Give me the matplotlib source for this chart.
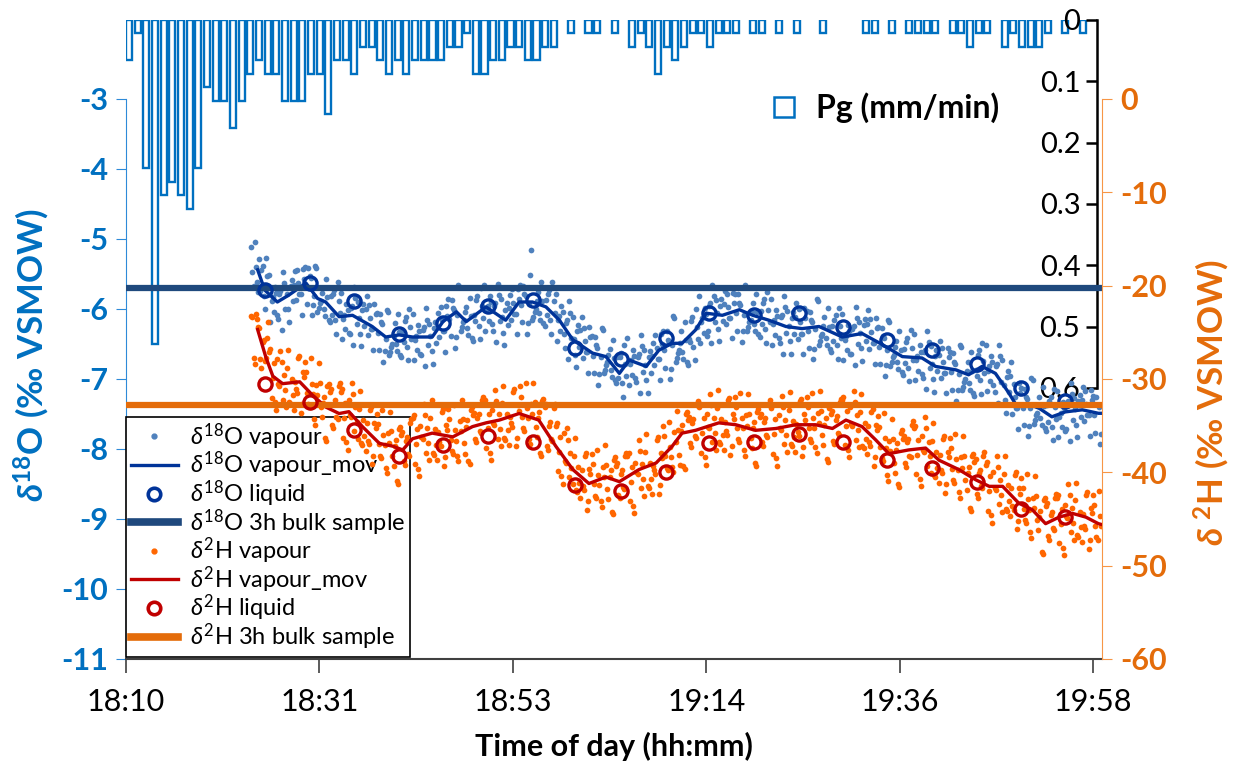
import numpy as np
import matplotlib
matplotlib.use("Agg")
import matplotlib.pyplot as plt
from matplotlib.lines import Line2D

plt.rcParams['font.family'] = ['Lato', 'DejaVu Sans']
plt.rcParams['axes.unicode_minus'] = False
plt.rcParams['mathtext.fontset'] = 'custom'
plt.rcParams['mathtext.rm'] = 'Lato'
plt.rcParams['mathtext.it'] = 'Lato:italic'
plt.rcParams['mathtext.bf'] = 'Lato:bold'
plt.rcParams['mathtext.bfit'] = 'Lato:bold:italic'

# time axis: minutes after 18:10
time_ticks = [0, 21.6, 43.2, 64.8, 86.4, 108]
time_labels = ['18:10', '18:31', '18:53', '19:14', '19:36', '19:58']

# precipitation (mm/min), one bar per slot
pg = [0.066, 0.022, 0.242, 0.528, 0.286, 0.264, 0.286, 0.308, 0.242, 0.110,
      0.132, 0.132, 0.176, 0.132, 0.088, 0.066, 0.088, 0.088, 0.132, 0.132,
      0.132, 0.088, 0.088, 0.154, 0.066, 0.066, 0.088, 0.044, 0.044, 0.066,
      0.088, 0.066, 0.088, 0.066, 0.066, 0.066, 0.066, 0.044, 0.044, 0.022,
      0.088, 0.088, 0.066, 0.066, 0.044, 0.044, 0.066, 0.066, 0.044, 0.044,
      0, 0.022, 0, 0.022, 0.022, 0, 0.022, 0, 0.044, 0.022,
      0.044, 0.088, 0.044, 0.066, 0.044, 0.022, 0.022, 0.044, 0.022, 0.022,
      0.022, 0, 0.022, 0.022, 0, 0.022, 0, 0.022, 0, 0,
      0.022, 0, 0, 0, 0, 0.022, 0.022, 0, 0.022, 0,
      0.022, 0.022, 0.022, 0.022, 0, 0.022, 0.022, 0.044, 0.022, 0.022,
      0, 0.044, 0.022, 0.044, 0.044, 0.044, 0.022, 0, 0.022, 0,
      0.022]

# vapour measurements from 18:24 (two interleaved reading sets)
vap_t = np.arange(14, 109, 0.25)
vap_t_b = vap_t + 0.125
o18_vap = [
    -5.12, -5.67, -5.40, -5.76, -5.74, -5.38, -6.00, -5.53, -5.52, -5.89, -6.04, -5.77,
    -6.14, -5.74, -5.47, -6.00, -5.78, -6.18, -5.58, -5.65, -5.87, -5.63, -5.79, -5.43,
    -5.40, -5.93, -5.53, -6.09, -5.81, -5.42, -5.99, -5.88, -5.70, -6.10, -5.83, -6.19,
    -6.09, -5.73, -6.35, -5.88, -5.77, -6.14, -6.29, -6.02, -6.35, -5.95, -5.68, -6.21,
    -6.13, -6.53, -5.93, -6.00, -6.37, -6.13, -6.29, -5.93, -6.06, -6.59, -6.19, -6.75,
    -6.43, -6.04, -6.61, -6.50, -6.20, -6.60, -6.33, -6.69, -6.47, -6.11, -6.73, -6.26,
    -6.07, -6.44, -6.59, -6.32, -6.66, -6.26, -5.99, -6.52, -6.38, -6.78, -6.18, -6.25,
    -6.40, -6.16, -6.32, -5.96, -5.86, -6.39, -5.99, -6.55, -6.08, -5.69, -6.26, -6.15,
    -5.97, -6.37, -6.10, -6.46, -6.17, -5.81, -6.43, -5.96, -5.65, -6.02, -6.17, -5.90,
    -6.31, -5.91, -5.64, -6.17, -6.12, -6.52, -5.92, -5.99, -6.15, -5.91, -6.07, -5.71,
    -5.66, -6.19, -5.79, -6.35, -5.93, -5.15, -6.11, -6.00, -5.75, -6.15, -5.88, -6.24,
    -6.09, -5.73, -6.35, -5.88, -5.79, -6.16, -6.31, -6.04, -6.56, -6.16, -5.89, -6.42,
    -6.43, -6.83, -6.23, -6.30, -6.70, -6.46, -6.62, -6.26, -6.39, -6.92, -6.52, -7.08,
    -6.69, -6.30, -6.87, -6.76, -6.57, -6.97, -6.70, -7.06, -6.99, -6.63, -7.25, -6.78,
    -6.42, -6.79, -6.94, -6.67, -7.04, -6.64, -6.37, -6.90, -6.80, -7.20, -6.60, -6.67,
    -6.80, -6.56, -6.72, -6.36, -6.31, -6.84, -6.44, -7.00, -6.52, -6.13, -6.70, -6.59,
    -6.31, -6.71, -6.44, -6.80, -6.47, -6.11, -6.73, -6.26, -5.82, -6.19, -6.34, -6.07,
    -6.32, -5.92, -5.65, -6.18, -6.06, -6.46, -5.86, -5.93, -6.21, -5.97, -6.13, -5.77,
    -5.78, -6.31, -5.91, -6.47, -6.08, -5.69, -6.26, -6.15, -5.91, -6.31, -6.04, -6.40,
    -6.22, -5.86, -6.48, -6.01, -5.85, -6.22, -6.37, -6.10, -6.48, -6.08, -5.81, -6.34,
    -6.24, -6.64, -6.04, -6.11, -6.43, -6.19, -6.35, -5.99, -6.03, -6.56, -6.16, -6.72,
    -6.28, -5.89, -6.46, -6.35, -6.12, -6.52, -6.25, -6.61, -6.45, -6.09, -6.71, -6.24,
    -6.07, -6.44, -6.59, -6.32, -6.64, -6.24, -5.97, -6.50, -6.34, -6.74, -6.14, -6.21,
    -6.57, -6.33, -6.49, -6.13, -6.26, -6.79, -6.39, -6.95, -6.58, -6.19, -6.76, -6.65,
    -6.45, -6.85, -6.58, -6.94, -6.77, -6.41, -7.03, -6.56, -6.36, -6.73, -6.88, -6.61,
    -6.98, -6.58, -6.31, -6.84, -6.78, -7.18, -6.58, -6.65, -6.99, -6.75, -6.91, -6.55,
    -6.62, -7.15, -6.75, -7.31, -6.93, -6.54, -7.11, -7.00, -6.75, -7.15, -6.88, -7.24,
    -6.95, -6.59, -7.21, -6.74, -6.51, -6.88, -7.03, -6.76, -7.18, -6.78, -6.51, -7.04,
    -7.08, -7.48, -6.88, -6.95, -7.50, -7.26, -7.42, -7.06, -7.13, -7.66, -7.26, -7.82,
    -7.41, -7.02, -7.59, -7.48, -7.25, -7.65, -7.38, -7.74, -7.61, -7.25, -7.87, -7.40,
    -7.17, -7.54, -7.69, -7.42, -7.72, -7.32, -7.05, -7.58, -7.43, -7.83, -7.23, -7.30,
    -7.60, -7.36, -7.52, -7.16, -7.24, -7.77, -7.37, -7.93]
o18_vap_b = [
    -5.47, -5.04, -5.62, -5.29, -5.44, -5.81, -5.27, -5.70, -6.18, -5.83, -5.68, -6.09,
    -5.78, -6.30, -5.63, -5.69, -6.00, -5.67, -5.89, -5.46, -5.44, -5.79, -6.08, -5.57,
    -5.68, -5.41, -5.56, -5.94, -5.39, -6.04, -5.92, -5.77, -6.00, -5.57, -6.15, -5.82,
    -5.79, -6.16, -5.62, -6.05, -6.43, -6.08, -5.93, -6.34, -5.99, -6.51, -5.84, -5.90,
    -6.35, -6.02, -6.24, -5.81, -5.94, -6.29, -6.58, -6.07, -6.34, -6.07, -6.22, -6.60,
    -6.01, -6.66, -6.54, -6.39, -6.50, -6.07, -6.65, -6.32, -6.17, -6.54, -6.00, -6.43,
    -6.73, -6.38, -6.23, -6.64, -6.30, -6.82, -6.15, -6.21, -6.60, -6.27, -6.49, -6.06,
    -5.97, -6.32, -6.61, -6.10, -6.14, -5.87, -6.02, -6.40, -5.66, -6.31, -6.19, -6.04,
    -6.27, -5.84, -6.42, -6.09, -5.87, -6.24, -5.70, -6.13, -6.31, -5.96, -5.81, -6.22,
    -5.95, -6.47, -5.80, -5.86, -6.34, -6.01, -6.23, -5.80, -5.72, -6.07, -6.36, -5.85,
    -5.94, -5.67, -5.82, -6.20, -5.51, -6.16, -6.04, -5.89, -6.05, -5.62, -6.20, -5.87,
    -5.79, -6.16, -5.62, -6.05, -6.45, -6.10, -5.95, -6.36, -6.20, -6.72, -6.05, -6.11,
    -6.65, -6.32, -6.54, -6.11, -6.27, -6.62, -6.91, -6.40, -6.67, -6.40, -6.55, -6.93,
    -6.27, -6.92, -6.80, -6.65, -6.87, -6.44, -7.02, -6.69, -6.69, -7.06, -6.52, -6.95,
    -7.08, -6.73, -6.58, -6.99, -6.68, -7.20, -6.53, -6.59, -7.02, -6.69, -6.91, -6.48,
    -6.37, -6.72, -7.01, -6.50, -6.59, -6.32, -6.47, -6.85, -6.10, -6.75, -6.63, -6.48,
    -6.61, -6.18, -6.76, -6.43, -6.17, -6.54, -6.00, -6.43, -6.48, -6.13, -5.98, -6.39,
    -5.96, -6.48, -5.81, -5.87, -6.28, -5.95, -6.17, -5.74, -5.78, -6.13, -6.42, -5.91,
    -6.06, -5.79, -5.94, -6.32, -5.66, -6.31, -6.19, -6.04, -6.21, -5.78, -6.36, -6.03,
    -5.92, -6.29, -5.75, -6.18, -6.51, -6.16, -6.01, -6.42, -6.12, -6.64, -5.97, -6.03,
    -6.46, -6.13, -6.35, -5.92, -6.00, -6.35, -6.64, -6.13, -6.31, -6.04, -6.19, -6.57,
    -5.86, -6.51, -6.39, -6.24, -6.42, -5.99, -6.57, -6.24, -6.15, -6.52, -5.98, -6.41,
    -6.73, -6.38, -6.23, -6.64, -6.28, -6.80, -6.13, -6.19, -6.56, -6.23, -6.45, -6.02,
    -6.14, -6.49, -6.78, -6.27, -6.54, -6.27, -6.42, -6.80, -6.16, -6.81, -6.69, -6.54,
    -6.75, -6.32, -6.90, -6.57, -6.47, -6.84, -6.30, -6.73, -7.02, -6.67, -6.52, -6.93,
    -6.62, -7.14, -6.47, -6.53, -7.00, -6.67, -6.89, -6.46, -6.56, -6.91, -7.20, -6.69,
    -6.90, -6.63, -6.78, -7.16, -6.51, -7.16, -7.04, -6.89, -7.05, -6.62, -7.20, -6.87,
    -6.65, -7.02, -6.48, -6.91, -7.17, -6.82, -6.67, -7.08, -6.82, -7.34, -6.67, -6.73,
    -7.30, -6.97, -7.19, -6.76, -7.07, -7.42, -7.71, -7.20, -7.41, -7.14, -7.29, -7.67,
    -6.99, -7.64, -7.52, -7.37, -7.55, -7.12, -7.70, -7.37, -7.31, -7.68, -7.14, -7.57,
    -7.83, -7.48, -7.33, -7.74, -7.36, -7.88, -7.21, -7.27, -7.65, -7.32, -7.54, -7.11,
    -7.17, -7.52, -7.81, -7.30, -7.52, -7.25, -7.40, -7.78]
h2_vap = [
    -23.3, -27.7, -23.0, -24.4, -27.9, -26.0, -28.1, -25.6, -27.1, -32.0, -28.3, -33.3,
    -30.5, -27.0, -32.2, -31.2, -28.8, -32.5, -30.0, -33.3, -31.1, -27.8, -33.6, -29.2,
    -28.2, -31.5, -33.0, -30.5, -34.3, -30.6, -28.3, -33.0, -32.6, -36.3, -30.8, -31.4,
    -34.9, -32.7, -34.1, -30.8, -31.4, -36.3, -32.6, -37.6, -33.9, -30.4, -35.6, -34.6,
    -33.2, -36.9, -34.4, -37.7, -36.6, -33.3, -39.1, -34.7, -33.7, -37.0, -38.5, -36.0,
    -39.5, -35.8, -33.5, -38.2, -37.2, -40.9, -35.4, -36.0, -38.8, -36.6, -38.0, -34.7,
    -34.2, -39.1, -35.4, -40.4, -36.2, -32.7, -37.9, -36.9, -34.2, -37.9, -35.4, -38.7,
    -36.8, -33.5, -39.3, -34.9, -33.2, -36.5, -38.0, -35.5, -38.2, -34.5, -32.2, -36.9,
    -35.1, -38.8, -33.3, -33.9, -36.4, -34.2, -35.6, -32.3, -32.5, -37.4, -33.7, -38.7,
    -34.7, -31.2, -36.4, -35.4, -32.6, -36.3, -33.8, -37.1, -34.7, -31.4, -37.2, -32.8,
    -30.8, -34.1, -35.6, -33.1, -36.4, -32.7, -30.4, -35.1, -34.2, -37.9, -32.4, -33.0,
    -37.2, -35.0, -36.4, -33.1, -35.0, -39.9, -36.2, -41.2, -38.8, -35.3, -40.5, -39.5,
    -38.2, -41.9, -39.4, -42.7, -41.5, -38.2, -44.0, -39.6, -38.0, -41.3, -42.8, -40.3,
    -43.1, -39.4, -37.1, -41.8, -40.5, -44.2, -38.7, -39.3, -42.4, -40.2, -41.6, -38.3,
    -38.2, -43.1, -39.4, -44.4, -40.0, -36.5, -41.7, -40.7, -37.8, -41.5, -39.0, -42.3,
    -39.8, -36.5, -42.3, -37.9, -35.0, -38.3, -39.8, -37.3, -39.4, -35.7, -33.4, -38.1,
    -35.6, -39.3, -33.8, -34.4, -36.9, -34.7, -36.1, -32.8, -33.0, -37.9, -34.2, -39.2,
    -35.1, -31.6, -36.8, -35.8, -33.1, -36.8, -34.3, -37.6, -35.6, -32.3, -38.1, -33.7,
    -31.9, -35.2, -36.7, -34.2, -37.6, -33.9, -31.6, -36.3, -35.3, -39.0, -33.5, -34.1,
    -36.8, -34.6, -36.0, -32.7, -33.1, -38.0, -34.3, -39.3, -35.3, -31.8, -37.0, -36.0,
    -33.3, -37.0, -34.5, -37.8, -35.7, -32.4, -38.2, -33.8, -31.9, -35.2, -36.7, -34.2,
    -37.3, -33.6, -31.3, -36.0, -34.9, -38.6, -33.1, -33.7, -36.6, -34.4, -35.8, -32.5,
    -32.2, -37.1, -33.4, -38.4, -34.8, -31.3, -36.5, -35.5, -33.5, -37.2, -34.7, -38.0,
    -36.8, -33.5, -39.3, -34.9, -34.0, -37.3, -38.8, -36.3, -40.3, -36.6, -34.3, -39.0,
    -37.6, -41.3, -35.8, -36.4, -39.0, -36.8, -38.2, -34.9, -35.3, -40.2, -36.5, -41.5,
    -37.6, -34.1, -39.3, -38.3, -36.6, -40.3, -37.8, -41.1, -39.7, -36.4, -42.2, -37.8,
    -36.3, -39.6, -41.1, -38.6, -42.1, -38.4, -36.1, -40.8, -40.1, -43.8, -38.3, -38.9,
    -42.3, -40.1, -41.5, -38.2, -39.2, -44.1, -40.4, -45.4, -41.7, -38.2, -43.4, -42.4,
    -40.2, -43.9, -41.4, -44.7, -43.6, -40.3, -46.1, -41.7, -40.6, -43.9, -45.4, -42.9,
    -46.4, -42.7, -40.4, -45.1, -44.8, -48.5, -43.0, -43.6, -46.8, -44.6, -46.0, -42.7,
    -42.7, -47.6, -43.9, -48.9, -44.7, -41.2, -46.4, -45.4, -43.0, -46.7, -44.2, -47.5,
    -45.7, -42.4, -48.2, -43.8, -42.4, -45.7, -47.2, -44.7]
h2_vap_b = [
    -23.4, -28.4, -23.6, -24.5, -28.8, -25.8, -27.8, -23.9, -26.8, -29.9, -32.5, -27.9,
    -30.7, -28.2, -29.6, -33.0, -26.9, -32.7, -31.7, -30.3, -31.5, -27.5, -32.7, -29.8,
    -29.3, -32.7, -27.8, -31.6, -34.9, -31.7, -30.4, -34.1, -31.9, -36.6, -30.5, -31.1,
    -35.3, -32.3, -34.3, -30.4, -31.1, -34.2, -36.8, -32.2, -34.1, -31.6, -33.0, -36.4,
    -31.3, -37.1, -36.1, -34.7, -37.0, -33.0, -38.2, -35.3, -34.8, -38.2, -33.3, -37.1,
    -40.1, -36.9, -35.6, -39.3, -36.5, -41.2, -35.1, -35.7, -39.2, -36.2, -38.2, -34.3,
    -33.9, -37.0, -39.6, -35.0, -36.4, -33.9, -35.3, -38.7, -32.3, -38.1, -37.1, -35.7,
    -37.2, -33.2, -38.4, -35.5, -34.3, -37.7, -32.8, -36.6, -38.8, -35.6, -34.3, -38.0,
    -34.4, -39.1, -33.0, -33.6, -36.8, -33.8, -35.8, -31.9, -32.2, -35.3, -37.9, -33.3,
    -34.9, -32.4, -33.8, -37.2, -30.7, -36.5, -35.5, -34.1, -35.1, -31.1, -36.3, -33.4,
    -31.9, -35.3, -30.4, -34.2, -37.0, -33.8, -32.5, -36.2, -33.5, -38.2, -32.1, -32.7,
    -37.6, -34.6, -36.6, -32.7, -34.7, -37.8, -40.4, -35.8, -39.0, -36.5, -37.9, -41.3,
    -36.3, -42.1, -41.1, -39.7, -41.9, -37.9, -43.1, -40.2, -39.1, -42.5, -37.6, -41.4,
    -43.7, -40.5, -39.2, -42.9, -39.8, -44.5, -38.4, -39.0, -42.8, -39.8, -41.8, -37.9,
    -37.9, -41.0, -43.6, -39.0, -40.2, -37.7, -39.1, -42.5, -35.9, -41.7, -40.7, -39.3,
    -40.2, -36.2, -41.4, -38.5, -36.1, -39.5, -34.6, -38.4, -40.0, -36.8, -35.5, -39.2,
    -34.9, -39.6, -33.5, -34.1, -37.3, -34.3, -36.3, -32.4, -32.7, -35.8, -38.4, -33.8,
    -35.3, -32.8, -34.2, -37.6, -31.2, -37.0, -36.0, -34.6, -36.0, -32.0, -37.2, -34.3,
    -33.0, -36.4, -31.5, -35.3, -38.2, -35.0, -33.7, -37.4, -34.6, -39.3, -33.2, -33.8,
    -37.2, -34.2, -36.2, -32.3, -32.8, -35.9, -38.5, -33.9, -35.5, -33.0, -34.4, -37.8,
    -31.4, -37.2, -36.2, -34.8, -36.1, -32.1, -37.3, -34.4, -33.0, -36.4, -31.5, -35.3,
    -37.9, -34.7, -33.4, -37.1, -34.2, -38.9, -32.8, -33.4, -37.0, -34.0, -36.0, -32.1,
    -31.9, -35.0, -37.6, -33.0, -35.0, -32.5, -33.9, -37.3, -31.6, -37.4, -36.4, -35.0,
    -37.2, -33.2, -38.4, -35.5, -35.1, -38.5, -33.6, -37.4, -40.9, -37.7, -36.4, -40.1,
    -36.9, -41.6, -35.5, -36.1, -39.4, -36.4, -38.4, -34.5, -35.0, -38.1, -40.7, -36.1,
    -37.8, -35.3, -36.7, -40.1, -34.7, -40.5, -39.5, -38.1, -40.1, -36.1, -41.3, -38.4,
    -37.4, -40.8, -35.9, -39.7, -42.7, -39.5, -38.2, -41.9, -39.4, -44.1, -38.0, -38.6,
    -42.7, -39.7, -41.7, -37.8, -38.9, -42.0, -44.6, -40.0, -41.9, -39.4, -40.8, -44.2,
    -38.3, -44.1, -43.1, -41.7, -44.0, -40.0, -45.2, -42.3, -41.7, -45.1, -40.2, -44.0,
    -47.0, -43.8, -42.5, -46.2, -44.1, -48.8, -42.7, -43.3, -47.2, -44.2, -46.2, -42.3,
    -42.4, -45.5, -48.1, -43.5, -44.9, -42.4, -43.8, -47.2, -41.1, -46.9, -45.9, -44.5,
    -46.1, -42.1, -47.3, -44.4, -43.5, -46.9, -42.0, -45.8]

# moving averages
o18_mov_t = [14.7, 15.5, 16.9, 18.2, 20.1, 21.4, 22.3, 23.8, 25.3, 27.5, 29.0, 30.5,
             32.0, 34.2, 35.4, 36.9, 38.0, 40.2, 42.4, 43.9, 45.4, 46.9, 48.4, 49.9,
             52.1, 53.6, 55.1, 56.2, 58.1, 59.5, 61.0, 62.1, 63.6, 64.8, 66.6, 68.5,
             70.0, 71.8, 73.7, 75.5, 77.4, 80.0, 82.2, 84.5, 86.7, 88.9, 90.4, 92.7,
             94.1, 95.6, 97.1, 98.6, 99.5, 100.6, 102.0, 103.4, 104.9, 106.8, 108.6, 109.0]
o18_mov = [-5.44, -5.73, -5.90, -5.80, -5.63, -5.85, -5.90, -6.11, -6.09, -6.25, -6.40, -6.37,
           -6.40, -6.40, -6.18, -6.04, -6.18, -5.97, -6.16, -5.90, -5.90, -5.97, -6.16, -6.44,
           -6.63, -6.68, -6.92, -6.73, -6.82, -6.59, -6.49, -6.49, -6.30, -6.06, -6.09, -6.01,
           -6.09, -6.16, -6.25, -6.28, -6.25, -6.40, -6.35, -6.51, -6.68, -6.70, -6.82, -6.87,
           -6.94, -6.82, -6.92, -7.20, -7.39, -7.35, -7.42, -7.54, -7.47, -7.44, -7.49, -7.49]
h2_mov_t = [14.7, 15.6, 16.4, 17.5, 19.4, 20.8, 22.3, 23.8, 24.9, 26.4, 28.3, 29.8,
            30.9, 32.0, 34.2, 36.5, 38.7, 40.2, 41.7, 43.9, 46.1, 48.0, 49.9, 51.7,
            53.6, 55.1, 57.3, 59.2, 61.0, 62.1, 63.6, 66.2, 68.1, 70.3, 72.6, 74.8,
            77.0, 78.9, 80.4, 82.2, 83.7, 85.2, 87.4, 89.3, 90.8, 93.0, 94.9, 96.4,
            97.9, 99.7, 101.2, 102.7, 104.2, 105.7, 107.2, 108.6, 109.0]
h2_mov = [-24.7, -27.6, -29.7, -30.5, -30.3, -31.7, -33.0, -33.7, -33.5, -35.1, -36.9, -37.2,
          -37.6, -36.4, -35.8, -36.2, -35.1, -34.7, -34.4, -33.7, -34.4, -37.2, -39.7, -41.2,
          -40.5, -41.0, -39.7, -39.0, -37.2, -35.8, -35.5, -34.7, -34.9, -35.5, -35.3, -34.9,
          -34.9, -35.3, -34.4, -35.1, -36.5, -38.0, -37.6, -37.4, -38.7, -39.7, -40.8, -41.5,
          -41.5, -43.3, -44.0, -45.5, -44.8, -44.4, -44.8, -45.5, -45.6]

# liquid samples
liq_t = [15.5, 20.5, 25.5, 30.5, 35.4, 40.4, 45.4, 50.2, 55.3, 60.3,
         65.1, 70.1, 75.2, 80.1, 85.0, 90.0, 95.0, 99.9, 104.9]
o18_liq = [-5.73, -5.63, -5.88, -6.36, -6.20, -5.96, -5.87, -6.56, -6.72, -6.42,
           -6.06, -6.09, -6.06, -6.25, -6.44, -6.59, -6.78, -7.13, -7.32]
h2_liq = [-30.5, -32.5, -35.5, -38.3, -37.1, -36.1, -36.7, -41.4, -42.0, -40.0,
          -36.9, -36.8, -35.9, -36.8, -38.7, -39.5, -41.0, -43.9, -44.8]

# 3h bulk samples
o18_bulk = -5.70
h2_bulk = -32.8

c_vap18 = '#4f81bd'
c_mov18 = '#003399'
c_bulk18 = '#1f497d'
c_vap2 = '#ff6600'
c_mov2 = '#c00000'
c_bulk2 = '#e46c0a'
c_pg = '#0070c0'
c_left = '#0070c0'
c_right = '#e46c0a'

W, H = 1233, 764
fig = plt.figure(figsize=(W / 100, H / 100), dpi=100)

# precipitation axes (drawn underneath)
ax_p = fig.add_axes([126 / W, 1 - 388 / H, 971 / W, 368 / H], zorder=1)
pg_arr = np.array(pg)
slots = np.arange(len(pg))
wet = pg_arr > 0
ax_p.bar(slots[wet], pg_arr[wet], width=0.7, facecolor='white',
         edgecolor=c_pg, linewidth=1.7)
ax_p.set_xlim(-0.35, 111.65)
ax_p.set_ylim(0.6, 0)
ax_p.set_yticks([0, 0.1, 0.2, 0.3, 0.4, 0.5, 0.6])
ax_p.set_yticklabels(['0', '0.1', '0.2', '0.3', '0.4', '0.5', '0.6'])
ax_p.xaxis.set_visible(False)
for s in ['top', 'right', 'bottom']:
    ax_p.spines[s].set_visible(False)
ax_p.spines['left'].set_position(('axes', 1.0))
ax_p.spines['left'].set_color('black')
ax_p.spines['left'].set_linewidth(1.8)
ax_p.tick_params(axis='y', direction='out', length=8, width=1.8, labelsize=21,
                 colors='black', pad=4)
ax_p.legend(handles=[Line2D([], [], marker='s', ls='none', mfc='none', mec=c_pg,
                            mew=1.8, ms=14)],
            labels=['Pg (mm/min)'], loc='center left',
            bbox_to_anchor=(768 / W, 1 - 108 / H), bbox_transform=fig.transFigure,
            frameon=False, borderpad=0, borderaxespad=0, handlelength=1.0,
            handletextpad=0.5, prop=dict(weight='bold', size=23))

# main axes: d18O
ax = fig.add_axes([126 / W, 1 - 659 / H, 976 / W, 560 / H], zorder=2)
ax.patch.set_visible(False)
ax.scatter(vap_t, o18_vap, s=17, color=c_vap18, linewidths=0, zorder=2)
ax.scatter(vap_t_b, o18_vap_b, s=17, color=c_vap18, linewidths=0, zorder=2)
ax.plot(o18_mov_t, o18_mov, color=c_mov18, lw=2.4, zorder=3)
ax.plot(liq_t, o18_liq, ls='none', marker='o', ms=9.5, mfc='none', mec=c_mov18,
        mew=2.4, zorder=4)
ax.axhline(o18_bulk, color=c_bulk18, lw=4.5, zorder=3)
ax.set_xlim(0, 109)
ax.set_ylim(-11, -3)
ax.set_yticks(range(-11, -2))
ax.set_xticks(time_ticks)
ax.set_xticklabels(time_labels)
ax.spines['top'].set_visible(False)
ax.spines['right'].set_visible(False)
ax.spines['left'].set_color('#2e8ad8')
ax.spines['bottom'].set_color('#404040')
ax.spines['bottom'].set_linewidth(1.5)
ax.tick_params(axis='y', direction='out', length=7, color='#2e8ad8',
               labelcolor=c_left, labelsize=22, pad=6)
for lab in ax.get_yticklabels():
    lab.set_fontweight('bold')
ax.tick_params(axis='x', direction='out', length=10, width=1.2, color='#404040',
               labelsize=22, pad=11)

# twin axes: d2H
ax2 = ax.twinx()
ax2.set_zorder(3)
ax2.patch.set_visible(False)
ax2.scatter(vap_t, h2_vap, s=17, color=c_vap2, linewidths=0, zorder=2)
ax2.scatter(vap_t_b, h2_vap_b, s=17, color=c_vap2, linewidths=0, zorder=2)
ax2.plot(h2_mov_t, h2_mov, color=c_mov2, lw=2.4, zorder=3)
ax2.plot(liq_t, h2_liq, ls='none', marker='o', ms=9.5, mfc='none', mec=c_mov2,
         mew=2.4, zorder=4)
ax2.axhline(h2_bulk, color=c_bulk2, lw=4.5, zorder=3)
ax2.set_ylim(-60, 0)
ax2.set_yticks(range(-60, 1, 10))
for s in ['top', 'left', 'bottom']:
    ax2.spines[s].set_visible(False)
ax2.spines['right'].set_color('#f79646')
ax2.tick_params(axis='y', direction='out', length=7, color='#f79646',
                labelcolor=c_right, labelsize=22, pad=6)
for lab in ax2.get_yticklabels():
    lab.set_fontweight('bold')

# legend sits under the d2H layer, as in the original
handles = [
    Line2D([], [], ls='none', marker='o', ms=3.5, color=c_vap18),
    Line2D([], [], color=c_mov18, lw=2.4),
    Line2D([], [], ls='none', marker='o', ms=9, mfc='none', mec=c_mov18, mew=2.6),
    Line2D([], [], color=c_bulk18, lw=5.5),
    Line2D([], [], ls='none', marker='o', ms=3.5, color=c_vap2),
    Line2D([], [], color=c_mov2, lw=2.4),
    Line2D([], [], ls='none', marker='o', ms=9, mfc='none', mec=c_mov2, mew=2.6),
    Line2D([], [], color=c_bulk2, lw=5.5),
]
labels = [r'$\mathit{\delta}^{18}$O vapour', r'$\mathit{\delta}^{18}$O vapour_mov',
          r'$\mathit{\delta}^{18}$O liquid', r'$\mathit{\delta}^{18}$O 3h bulk sample',
          r'$\mathit{\delta}^{2}$H vapour', r'$\mathit{\delta}^{2}$H vapour_mov',
          r'$\mathit{\delta}^{2}$H liquid', r'$\mathit{\delta}^{2}$H 3h bulk sample']
leg = ax.legend(handles, labels, loc='lower left', bbox_to_anchor=(0, 0.004),
                borderaxespad=0, fontsize=17, frameon=True, fancybox=False,
                edgecolor='black', framealpha=1, handlelength=2.0,
                labelspacing=-0.08, borderpad=0.2, handletextpad=0.5)
leg.get_frame().set_linewidth(1.2)

# axis titles
fig.text(614 / W, 1 - 746 / H, 'Time of day (hh:mm)', ha='center', va='center',
         fontsize=22, fontweight='bold')
fig.text(32 / W, 1 - 355 / H, r'$\mathbfit{\delta}^{\mathbf{18}}$O (‰ VSMOW)',
         rotation=90, ha='center', va='center', fontsize=25, fontweight='bold',
         color=c_left)
fig.text(1212 / W, 1 - 402 / H, r'$\mathbfit{\delta}$ $^{\mathbf{2}}$H (‰ VSMOW)',
         rotation=90, ha='center', va='center', fontsize=25, fontweight='bold',
         color=c_right)

fig.savefig('out.png', dpi=100, facecolor='white')
